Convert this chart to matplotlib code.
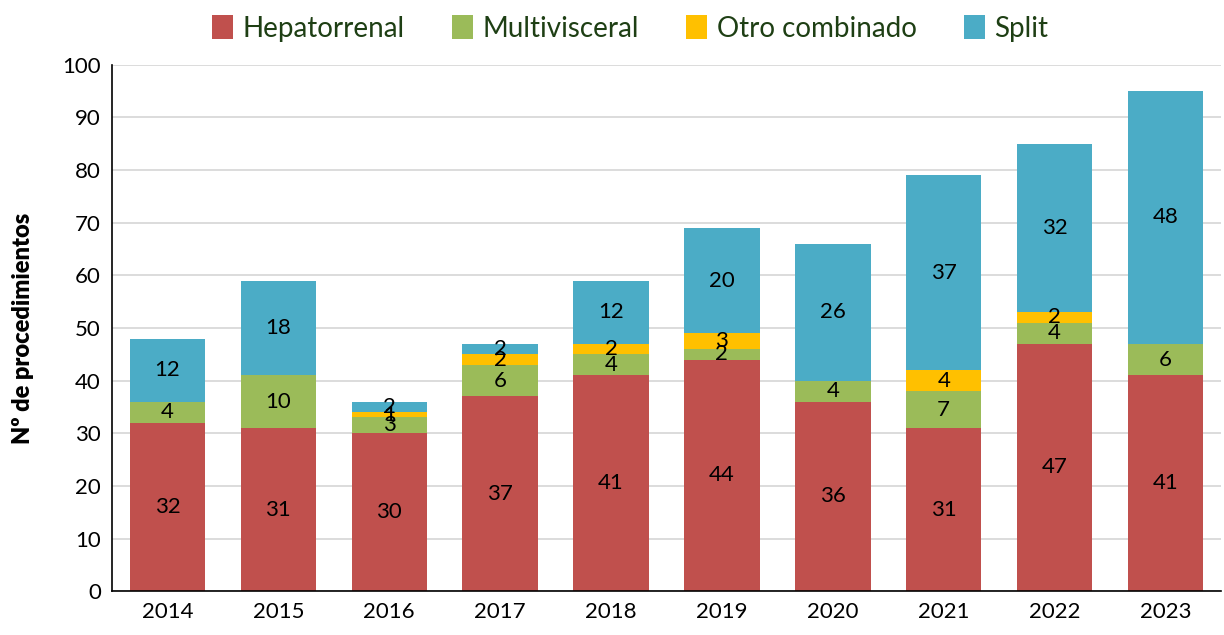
import matplotlib.pyplot as plt
import numpy as np

plt.rcParams['font.family'] = ['Lato', 'DejaVu Sans']

years = ['2014', '2015', '2016', '2017', '2018', '2019', '2020', '2021', '2022', '2023']
hepatorrenal = [32, 31, 30, 37, 41, 44, 36, 31, 47, 41]
multivisceral = [4, 10, 3, 6, 4, 2, 4, 7, 4, 6]
otro = [0, 0, 1, 2, 2, 3, 0, 4, 2, 0]
split = [12, 18, 2, 2, 12, 20, 26, 37, 32, 48]

series = [('Hepatorrenal', hepatorrenal, '#C0504D'),
          ('Multivisceral', multivisceral, '#9BBB59'),
          ('Otro combinado', otro, '#FFC000'),
          ('Split', split, '#4BACC6')]

fig = plt.figure(figsize=(12.24, 6.35), dpi=100)
ax = fig.add_axes([0.0915, 0.069, 0.906, 0.829])

x = np.arange(len(years))
bottom = np.zeros(len(years))
for name, vals, col in series:
    vals = np.array(vals)
    bars = ax.bar(x, vals, 0.68, bottom=bottom, color=col, label=name, zorder=2)
    labels = [str(v) if v > 0 else '' for v in vals]
    ax.bar_label(bars, labels=labels, label_type='center', fontsize=16, color='black')
    bottom += vals

ax.set_ylim(0, 100)
ax.set_xlim(-0.5, len(years) - 0.5)
ax.set_yticks(range(0, 101, 10))
ax.set_xticks(x)
ax.set_xticklabels(years)
ax.tick_params(axis='both', length=0, labelsize=16, pad=8)
ax.grid(axis='y', color='#D9D9D9', linewidth=1.3, zorder=0)
for s in ['top', 'right']:
    ax.spines[s].set_visible(False)
for s in ['left', 'bottom']:
    ax.spines[s].set_color('black')
    ax.spines[s].set_linewidth(1.2)
ax.set_ylabel('Nº de procedimientos', fontsize=17, fontweight='heavy', labelpad=20)

leg = fig.legend(loc='upper center', bbox_to_anchor=(0.515, 1.015), ncol=4, frameon=False,
                 fontsize=20, handlelength=0.75, handleheight=0.9, handletextpad=0.35,
                 columnspacing=1.7)
for t in leg.get_texts():
    t.set_color('#1E3F14')

fig.savefig('out.png', dpi=100)
